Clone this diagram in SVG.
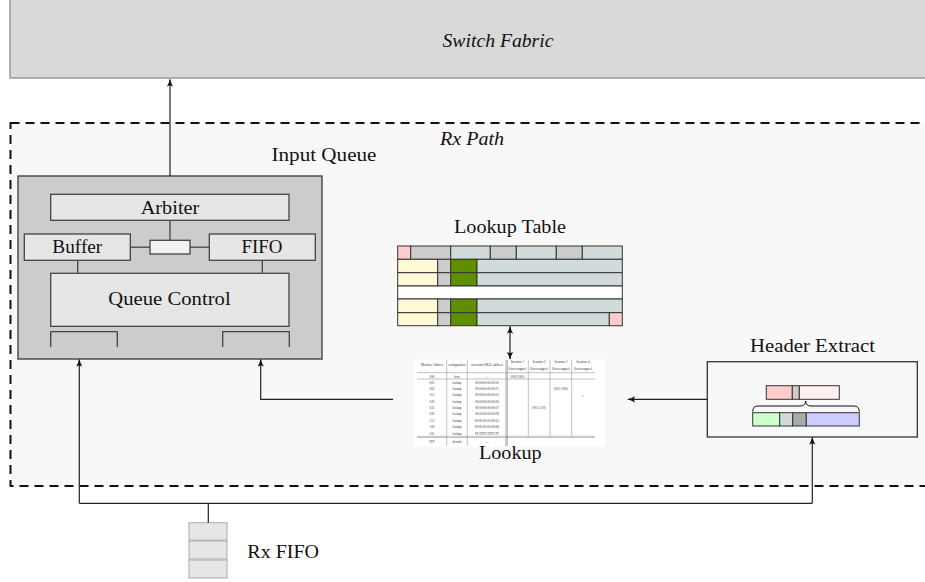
<svg xmlns="http://www.w3.org/2000/svg" width="925" height="582" viewBox="0 0 925 582">
<style>
.lbl{font-family:"Liberation Serif","Times New Roman",serif;font-size:18px;fill:#111}
.it{font-style:italic}
.conn{fill:none;stroke:#222;stroke-width:1.2}
.iq{stroke:#444;stroke-width:1.3}
.box{fill:#e6e6e6;stroke:#444;stroke-width:1.3}
.cell{stroke:#333;stroke-width:1}
.tiny{font-family:"Liberation Serif",serif;font-size:3.2px;fill:#333;text-anchor:middle}
.tl{stroke:#999;stroke-width:0.6}
</style>
<defs>
<marker id="ah" viewBox="0 0 10 10" refX="9" refY="5" markerWidth="8" markerHeight="8" markerUnits="userSpaceOnUse" orient="auto-start-reverse">
<path d="M0,1 Q5,4 10,5 Q5,6 0,9 Q3,5 0,1 z" fill="#111"/>
</marker>
</defs>
<rect width="925" height="582" fill="#fff"/>

<g id="switch-fabric">
<rect x="10" y="-2" width="920" height="80" fill="#d9d9d9" stroke="#999" stroke-width="1.5"/>
<text class="lbl it" x="498" y="47" text-anchor="middle" font-size="17.5" textLength="111" lengthAdjust="spacingAndGlyphs">Switch Fabric</text>
</g>

<g id="rx-path">
<rect x="10.5" y="123" width="930" height="363" fill="#f8f8f8" stroke="#111" stroke-width="2" stroke-dasharray="9 6"/>
<text class="lbl it" x="472" y="145" text-anchor="middle" font-size="17.5" textLength="64" lengthAdjust="spacingAndGlyphs">Rx Path</text>
</g>

<g id="input-queue">
<text class="lbl" x="324" y="161" text-anchor="middle" textLength="105" lengthAdjust="spacingAndGlyphs">Input Queue</text>
<rect x="18" y="176" width="304" height="183" fill="#cccccc" stroke="#444" stroke-width="1.4"/>
<rect class="box" x="50.7" y="194.3" width="238.3" height="26"/>
<text class="lbl" x="170" y="213.5" text-anchor="middle" textLength="58.6" lengthAdjust="spacingAndGlyphs">Arbiter</text>
<rect class="box" x="24.3" y="234" width="106" height="26.3"/>
<text class="lbl" x="77.3" y="253.3" text-anchor="middle" textLength="50" lengthAdjust="spacingAndGlyphs">Buffer</text>
<rect class="box" x="209.3" y="234" width="106" height="26.3"/>
<text class="lbl" x="262" y="253.3" text-anchor="middle" textLength="41" lengthAdjust="spacingAndGlyphs">FIFO</text>
<rect x="150" y="240.3" width="40" height="13.7" fill="#f2f2f2" stroke="#444" stroke-width="1.3"/>
<line class="iq" x1="130.3" y1="247.2" x2="150" y2="247.2"/>
<line class="iq" x1="190" y1="247.2" x2="209.3" y2="247.2"/>
<line class="iq" x1="170" y1="220.3" x2="170" y2="240.3"/>
<rect class="box" x="50.7" y="273.3" width="238.3" height="53"/>
<text class="lbl" x="169.5" y="305" text-anchor="middle" textLength="122.3" lengthAdjust="spacingAndGlyphs">Queue Control</text>
<line class="iq" x1="77.7" y1="260.3" x2="77.7" y2="273.3"/>
<line class="iq" x1="262.3" y1="260.3" x2="262.3" y2="273.3"/>
<path class="iq" fill="none" d="M50.7,347 V331.7 H117.3 V347"/>
<path class="iq" fill="none" d="M222.7,347 V331.7 H289.3 V347"/>
</g>

<g id="lookup-table">
<text class="lbl" x="510" y="233.3" text-anchor="middle" textLength="112" lengthAdjust="spacingAndGlyphs">Lookup Table</text>
<g class="cell">
<rect x="397.7" y="246" width="13" height="13.3" fill="#ffcccc"/>
<rect x="410.7" y="246" width="40" height="13.3" fill="#cccccc"/>
<rect x="450.7" y="246" width="39.6" height="13.3" fill="#d1dbdb"/>
<rect x="490.3" y="246" width="26" height="13.3" fill="#cccccc"/>
<rect x="516.3" y="246" width="40" height="13.3" fill="#d1dbdb"/>
<rect x="556.3" y="246" width="26" height="13.3" fill="#cccccc"/>
<rect x="582.3" y="246" width="40" height="13.3" fill="#d1dbdb"/>

<rect x="397.7" y="259.3" width="40" height="13.4" fill="#fff9d6"/>
<rect x="437.7" y="259.3" width="13" height="13.4" fill="#cccccc"/>
<rect x="450.7" y="259.3" width="26.3" height="13.4" fill="#5f8f00"/>
<rect x="477" y="259.3" width="145.3" height="13.4" fill="#d1dbdb"/>

<rect x="397.7" y="272.7" width="40" height="13.3" fill="#fff9d6"/>
<rect x="437.7" y="272.7" width="13" height="13.3" fill="#cccccc"/>
<rect x="450.7" y="272.7" width="26.3" height="13.3" fill="#5f8f00"/>
<rect x="477" y="272.7" width="145.3" height="13.3" fill="#d1dbdb"/>

<rect x="397.7" y="286" width="224.6" height="13" fill="#ffffff"/>

<rect x="397.7" y="299" width="40" height="13.7" fill="#fff9d6"/>
<rect x="437.7" y="299" width="13" height="13.7" fill="#cccccc"/>
<rect x="450.7" y="299" width="26.3" height="13.7" fill="#5f8f00"/>
<rect x="477" y="299" width="145.3" height="13.7" fill="#d1dbdb"/>

<rect x="397.7" y="312.7" width="40" height="13" fill="#fff9d6"/>
<rect x="437.7" y="312.7" width="13" height="13" fill="#cccccc"/>
<rect x="450.7" y="312.7" width="26.3" height="13" fill="#5f8f00"/>
<rect x="477" y="312.7" width="132.3" height="13" fill="#d1dbdb"/>
<rect x="609.3" y="312.7" width="13" height="13" fill="#ffcccc"/>
</g>
</g>

<g id="lookup">
<rect x="415" y="359.3" width="190" height="87.4" fill="#ffffff"/>
<g class="tl">
<line x1="417" y1="372.7" x2="595" y2="372.7"/>
<line x1="417" y1="379" x2="595" y2="379"/>
<line x1="417" y1="436.3" x2="595" y2="436.3"/>
<line x1="417" y1="437.5" x2="595" y2="437.5"/>
<line x1="446.7" y1="360" x2="446.7" y2="446"/>
<line x1="467.3" y1="360" x2="467.3" y2="446"/>
<line x1="506" y1="360" x2="506" y2="446" stroke="#777"/>
<line x1="507.3" y1="360" x2="507.3" y2="446" stroke="#777"/>
<line x1="528.3" y1="360" x2="528.3" y2="436.3"/>
<line x1="550" y1="360" x2="550" y2="436.3"/>
<line x1="571.7" y1="360" x2="571.7" y2="436.3"/>
</g>
<g class="tiny">
<text x="432" y="366">Memory Address</text>
<text x="457" y="366">configuration</text>
<text x="487" y="366">associated MAC address</text>
<text x="517.5" y="363">Iteration 1</text><text x="517.5" y="369.5">(lowercapper)</text>
<text x="539" y="363">Iteration 2</text><text x="539" y="369.5">(lowercapper)</text>
<text x="561" y="363">Iteration 3</text><text x="561" y="369.5">(lowercapper)</text>
<text x="583" y="363">Iteration 4</text><text x="583" y="369.5">(lowercapper)</text>
<text x="432" y="377.5">000</text><text x="457" y="377.5">host</text><text x="487" y="377.5">—</text><text x="517.5" y="377.5">(000,1001)</text>
<text x="432" y="384.3">001</text><text x="457" y="384.3">lookup</text><text x="487" y="384.3">00:00:00:00:00:00</text>
<text x="432" y="390.3">003</text><text x="457" y="390.3">lookup</text><text x="487" y="390.3">00:00:00:00:00:01</text>
<text x="432" y="396.3">011</text><text x="457" y="396.3">lookup</text><text x="487" y="396.3">00:00:00:00:00:03</text>
<text x="432" y="402.7">020</text><text x="457" y="402.7">lookup</text><text x="487" y="402.7">00:00:00:00:00:06</text>
<text x="432" y="408.7">023</text><text x="457" y="408.7">lookup</text><text x="487" y="408.7">00:00:00:00:00:07</text>
<text x="432" y="415">033</text><text x="457" y="415">lookup</text><text x="487" y="415">00:00:00:00:00:08</text>
<text x="432" y="421.7">111</text><text x="457" y="421.7">lookup</text><text x="487" y="421.7">00:00:00:00:00:0A</text>
<text x="432" y="428">100</text><text x="457" y="428">lookup</text><text x="487" y="428">00:00:00:00:00:0D</text>
<text x="432" y="435">101</text><text x="457" y="435">lookup</text><text x="487" y="435">FF:FFFF:FFFF:FF</text>
<text x="432" y="442.5">FFF</text><text x="457" y="442.5">default</text><text x="487" y="442.5">—</text>
<text x="539" y="409">(001,1110)</text>
<text x="561" y="390">(001,1100)</text>
<text x="583" y="397">✓</text>
</g>
<text class="lbl" x="510.3" y="459" text-anchor="middle" textLength="62.7" lengthAdjust="spacingAndGlyphs">Lookup</text>
</g>

<g id="header-extract">
<text class="lbl" x="812.5" y="352.3" text-anchor="middle" textLength="125" lengthAdjust="spacingAndGlyphs">Header Extract</text>
<rect x="707.3" y="361.7" width="210" height="75.3" fill="#f8f8f8" stroke="#333" stroke-width="1.3"/>
<g class="cell">
<rect x="766.3" y="385.7" width="26" height="13.6" fill="#ffcccc"/>
<rect x="792.3" y="385.7" width="7" height="13.6" fill="#cccccc"/>
<rect x="799.3" y="385.7" width="40" height="13.6" fill="#fff0f0"/>
<rect x="752.7" y="412.7" width="27" height="13.3" fill="#ccffcc"/>
<rect x="779.7" y="412.7" width="13" height="13.3" fill="#d1dbdb"/>
<rect x="792.7" y="412.7" width="13.6" height="13.3" fill="#aaaaaa"/>
<rect x="806.3" y="412.7" width="53" height="13.3" fill="#ccccff"/>
</g>
<path d="M752.7,411.7 Q752.7,406 758,406 H800 Q805.7,406 805.7,401 Q805.7,406 811,406 H854 Q859.3,406 859.3,411.7" fill="none" stroke="#111" stroke-width="1"/>
</g>

<g id="rx-fifo">
<rect x="189" y="522.7" width="38" height="17.5" fill="#e6e6e6" stroke="#aaa" stroke-width="1"/>
<rect x="189" y="541" width="38" height="18" fill="#e6e6e6" stroke="#aaa" stroke-width="1"/>
<rect x="189" y="560" width="38" height="18" fill="#e6e6e6" stroke="#aaa" stroke-width="1"/>
<text class="lbl" x="247.3" y="557.7" textLength="71.7" lengthAdjust="spacingAndGlyphs">Rx  FIFO</text>
</g>

<g id="connectors">
<line class="conn" x1="170" y1="176" x2="170" y2="79.5" marker-end="url(#ah)"/>
<line class="conn" x1="208.3" y1="522.7" x2="208.3" y2="503.3"/>
<line class="conn" x1="79.3" y1="503.3" x2="812.3" y2="503.3"/>
<line class="conn" x1="79.3" y1="503.3" x2="79.3" y2="359.5" marker-end="url(#ah)"/>
<line class="conn" x1="812.3" y1="503.3" x2="812.3" y2="437.5" marker-end="url(#ah)"/>
<path class="conn" d="M393,399.3 H260.7 V359.5" marker-end="url(#ah)"/>
<line class="conn" x1="707.3" y1="399.3" x2="628" y2="399.3" marker-end="url(#ah)"/>
<line class="conn" x1="510" y1="326.5" x2="510" y2="359" marker-start="url(#ah)" marker-end="url(#ah)"/>
</g>
</svg>
